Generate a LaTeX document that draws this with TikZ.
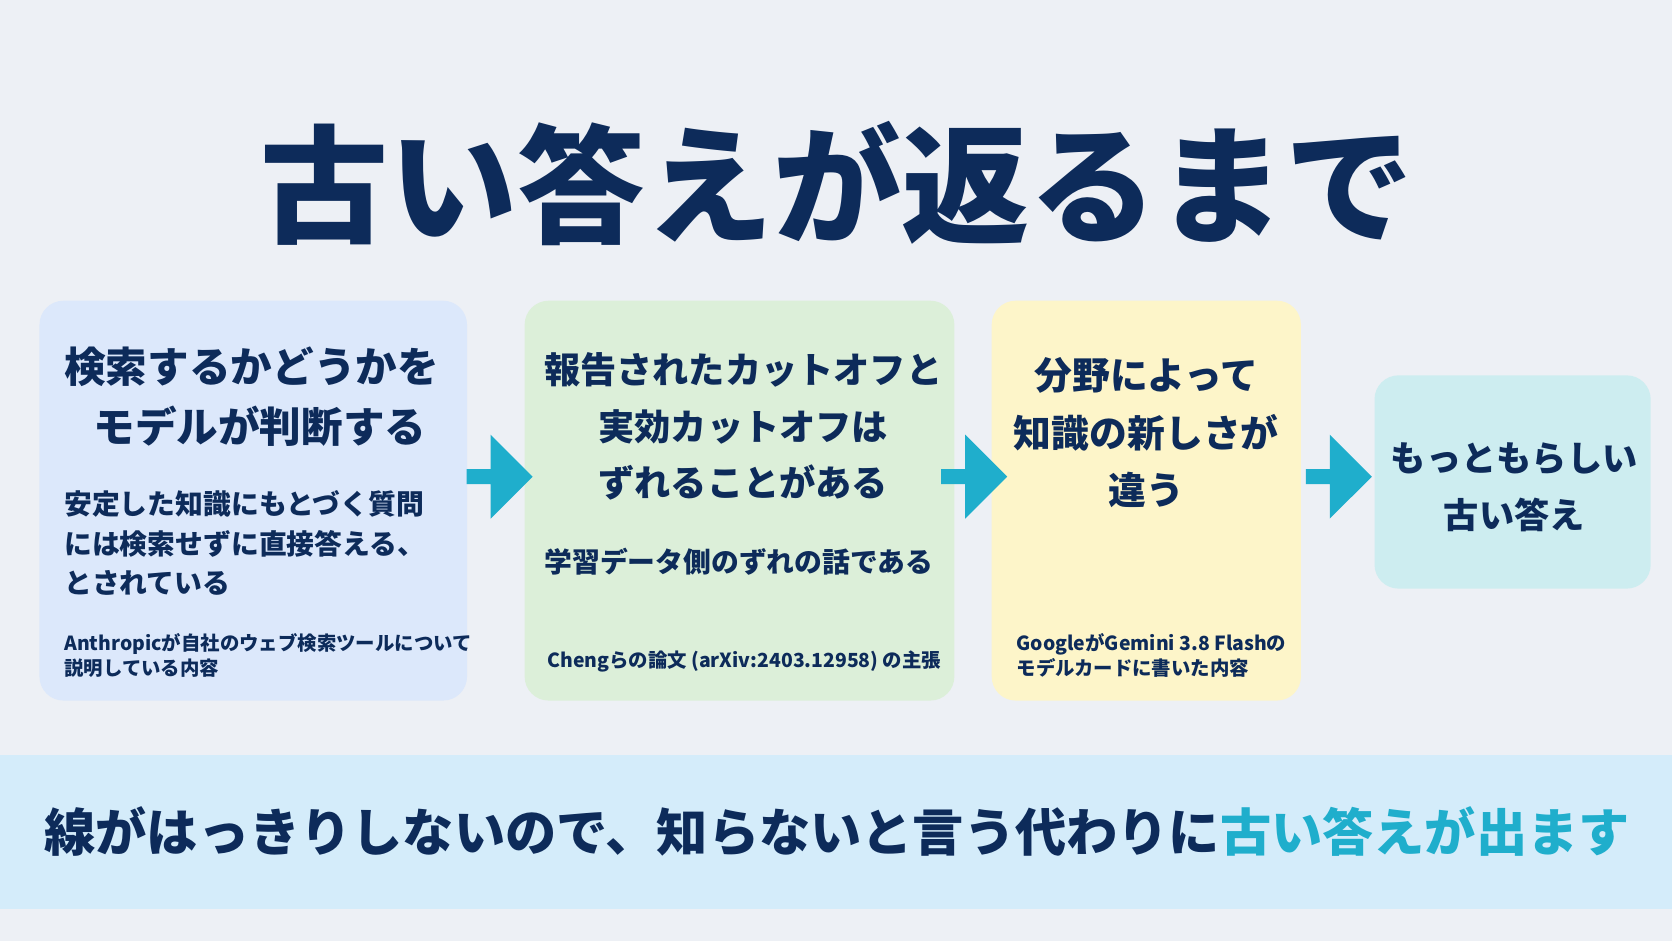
\documentclass[tikz,border=0pt]{standalone}
\usepackage{fontspec}
\setmainfont{Noto Sans CJK JP}
\usetikzlibrary{arrows.meta, positioning, shapes.arrows}
\definecolor{navy}{HTML}{0D2B5A}
\definecolor{pagebg}{HTML}{EDF0F5}
\definecolor{cyanarrow}{HTML}{1FAECC}
\definecolor{boxblue}{HTML}{DCE8FB}
\definecolor{boxgreen}{HTML}{DCEFD9}
\definecolor{boxyellow}{HTML}{FDF5C9}
\definecolor{boxteal}{HTML}{CDEDF0}
\definecolor{band}{HTML}{D4ECFA}

\begin{document}
\begin{tikzpicture}[
    x=0.5331pt, y=-0.5331pt,
    every node/.style={text=navy, font=\bfseries, inner sep=0pt},
    box/.style={rounded corners=12pt, draw=none},
    head/.style={align=center},
    sub/.style={font=\bfseries\fontsize{13.9}{19.7}\selectfont, align=left},
    note/.style={font=\bfseries\fontsize{9.7}{12.3}\selectfont, align=left},
    flow/.style={single arrow, fill=cyanarrow, minimum height=33pt, minimum width=42pt, single arrow head extend=10pt, inner sep=2pt}
]

% background and frame
\fill[pagebg] (0,0) rectangle (1568,882);
\useasboundingbox (0,0) rectangle (1568,882);

% title
\node[font=\bfseries\fontsize{64}{66}\selectfont] (title) at (785,172) {古い答えが返るまで};

% boxes
\fill[box, boxblue] (37,282) rectangle (438,657);
\fill[box, boxgreen] (492,282) rectangle (895,657);
\fill[box, boxyellow] (930,282) rectangle (1220,657);
\fill[box, boxteal] (1289,352) rectangle (1548,552);

% box 1
\node[head, font=\bfseries\fontsize{20.8}{29.8}\selectfont, anchor=north west] (ask) at (60,325) {検索するかどうかを\\\hspace*{0.4em}モデルが判断する};
\node[sub, anchor=north west] (ask-sub) at (60,460) {安定した知識にもとづく質問\\には検索せずに直接答える、\\とされている};
\node[note, anchor=north west] (ask-note) at (60,594) {Anthropicが自社のウェブ検索ツールについて\\説明している内容};

% box 2
\node[head, font=\bfseries\fontsize{18.1}{28.2}\selectfont] (cutoff) at (697,400) {報告されたカットオフと\\実効カットオフは\\ずれることがある};
\node[sub] (cutoff-sub) at (693,527) {学習データ側のずれの話である};
\node[note, anchor=west] (cutoff-note) at (513,620) {Chengらの論文 (arXiv:2403.12958) の主張};

% box 3
\node[head, font=\bfseries\fontsize{18.9}{28.8}\selectfont] (field) at (1075,406) {分野によって\\知識の新しさが\\違う};
\node[note, anchor=north west] (field-note) at (953,594) {GoogleがGemini 3.8 Flashの\\モデルカードに書いた内容};

% box 4
\node[head, font=\bfseries\fontsize{17.6}{28.8}\selectfont] (old) at (1420,457) {もっともらしい\\古い答え};

% arrows
\node[flow] (a1) at (465,447) {};
\node[flow] (a2) at (910,447) {};
\node[flow] (a3) at (1252,447) {};

% bottom band
\fill[band] (0,708) rectangle (1568,852);
\node[font=\bfseries\fontsize{25.6}{29}\selectfont] (summary) at (785,780) {線がはっきりしないので、知らないと言う代わりに\textcolor{cyanarrow}{古い答えが出ます}};

\end{tikzpicture}
\end{document}
